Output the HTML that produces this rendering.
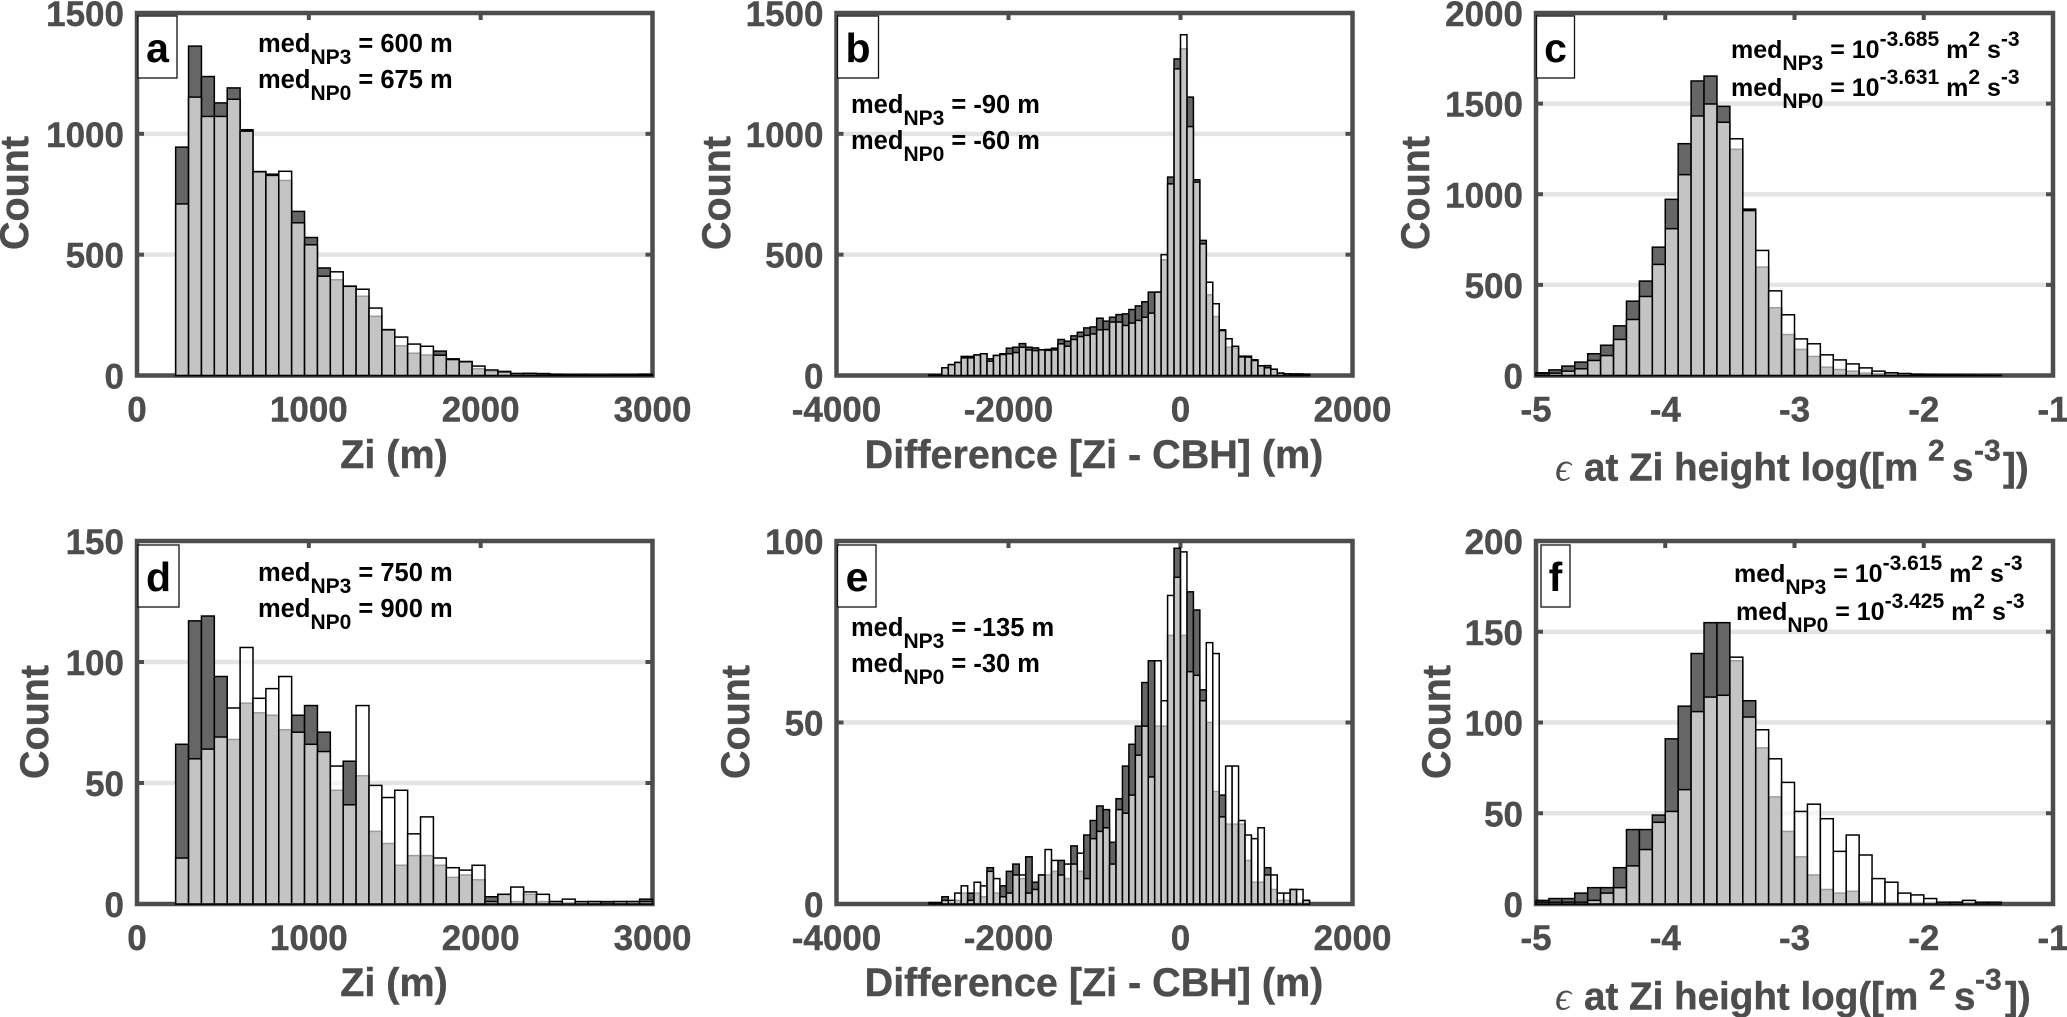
<!DOCTYPE html>
<html lang="en">
<head>
<meta charset="utf-8">
<title>Histograms of Zi, Zi - CBH difference and dissipation rate</title>
<style>
html,body{margin:0;padding:0;background:#fff;width:2067px;height:1017px;overflow:hidden}
svg{display:block}
text{font-family:"Liberation Sans",sans-serif;font-weight:700}
.tick{font-size:35px;fill:#4d4d4d;stroke:#4d4d4d;stroke-width:.4}
.axis-label{font-size:39.5px;fill:#4d4d4d;stroke:#4d4d4d;stroke-width:.4}
.axis-label-eps{font-size:38.6px;fill:#4d4d4d;stroke:#4d4d4d;stroke-width:.4}
.eps{font-family:"Liberation Serif","DejaVu Serif",serif;font-style:italic;font-weight:400;stroke-width:0}
.letter{font-size:41px;fill:#000;text-anchor:middle}
.note{font-size:25.500px;fill:#000}
.note-exp{font-size:25px;fill:#000}
.box{fill:#fff;stroke:#111;stroke-width:1.3}
</style>
</head>
<body>
<svg id="figure" xmlns="http://www.w3.org/2000/svg" width="2067" height="1017" viewBox="0 0 2067 1017">
<rect width="2067" height="1017" fill="#fff"/>

<g>
  <g id="plot-a"></g>
  <rect class="box" x="138" y="16" width="39" height="62"/>
  <text class="letter" x="157.500" y="62">a</text>
  <text class="note" x="258" y="52">med<tspan dy="12" font-size="21">NP3</tspan><tspan dy="-12"> = 600 m</tspan></text>
  <text class="note" x="258" y="88">med<tspan dy="12" font-size="21">NP0</tspan><tspan dy="-12"> = 675 m</tspan></text>
  <text class="axis-label" transform="translate(28,193) rotate(-90)" text-anchor="middle">Count</text>
  <text class="axis-label" x="394" y="468" text-anchor="middle">Zi (m)</text>
</g>

<g>
  <g id="plot-b"></g>
  <rect class="box" x="837.500" y="16" width="41" height="62"/>
  <text class="letter" x="858" y="62">b</text>
  <text class="note" x="851" y="113">med<tspan dy="12" font-size="21">NP3</tspan><tspan dy="-12"> = -90 m</tspan></text>
  <text class="note" x="851" y="149">med<tspan dy="12" font-size="21">NP0</tspan><tspan dy="-12"> = -60 m</tspan></text>
  <text class="axis-label" transform="translate(730,193) rotate(-90)" text-anchor="middle">Count</text>
  <text class="axis-label" x="1094" y="468" text-anchor="middle">Difference [Zi - CBH] (m)</text>
</g>

<g>
  <g id="plot-c"></g>
  <rect class="box" x="1536.500" y="16" width="38" height="62"/>
  <text class="letter" x="1555.500" y="62">c</text>
  <text class="note-exp" x="1731" y="58">med<tspan dy="12" font-size="21">NP3</tspan><tspan dy="-12"> = 10</tspan><tspan dy="-12" font-size="21">-3.685</tspan><tspan dy="12"> m</tspan><tspan dy="-12" font-size="21">2</tspan><tspan dy="12"> s</tspan><tspan dy="-12" font-size="21">-3</tspan></text>
  <text class="note-exp" x="1731" y="96">med<tspan dy="12" font-size="21">NP0</tspan><tspan dy="-12"> = 10</tspan><tspan dy="-12" font-size="21">-3.631</tspan><tspan dy="12"> m</tspan><tspan dy="-12" font-size="21">2</tspan><tspan dy="12"> s</tspan><tspan dy="-12" font-size="21">-3</tspan></text>
  <text class="axis-label" transform="translate(1429,193) rotate(-90)" text-anchor="middle">Count</text>
  <text class="axis-label-eps" y="480.500"><tspan class="eps" x="1555" font-size="40">ϵ</tspan><tspan x="1584">at Zi height log([m</tspan><tspan x="1928" dy="-20" font-size="30">2</tspan><tspan x="1952" dy="20">s</tspan><tspan x="1974" dy="-20" font-size="30">-3</tspan><tspan x="2003" dy="20">])</tspan></text>
</g>

<g>
  <g id="plot-d"></g>
  <rect class="box" x="138" y="545" width="41" height="62"/>
  <text class="letter" x="158.500" y="591">d</text>
  <text class="note" x="258" y="581">med<tspan dy="12" font-size="21">NP3</tspan><tspan dy="-12"> = 750 m</tspan></text>
  <text class="note" x="258" y="617">med<tspan dy="12" font-size="21">NP0</tspan><tspan dy="-12"> = 900 m</tspan></text>
  <text class="axis-label" transform="translate(48,722) rotate(-90)" text-anchor="middle">Count</text>
  <text class="axis-label" x="394" y="996" text-anchor="middle">Zi (m)</text>
</g>

<g>
  <g id="plot-e"></g>
  <rect class="box" x="837.500" y="545" width="38.500" height="62"/>
  <text class="letter" x="857" y="591">e</text>
  <text class="note" x="851" y="636">med<tspan dy="12" font-size="21">NP3</tspan><tspan dy="-12"> = -135 m</tspan></text>
  <text class="note" x="851" y="672">med<tspan dy="12" font-size="21">NP0</tspan><tspan dy="-12"> = -30 m</tspan></text>
  <text class="axis-label" transform="translate(749,722) rotate(-90)" text-anchor="middle">Count</text>
  <text class="axis-label" x="1094" y="996" text-anchor="middle">Difference [Zi - CBH] (m)</text>
</g>

<g>
  <g id="plot-f"></g>
  <rect class="box" x="1541" y="545" width="29" height="62"/>
  <text class="letter" x="1555.500" y="591">f</text>
  <text class="note-exp" x="1734" y="582">med<tspan dy="12" font-size="21">NP3</tspan><tspan dy="-12"> = 10</tspan><tspan dy="-12" font-size="21">-3.615</tspan><tspan dy="12"> m</tspan><tspan dy="-12" font-size="21">2</tspan><tspan dy="12"> s</tspan><tspan dy="-12" font-size="21">-3</tspan></text>
  <text class="note-exp" x="1736" y="620">med<tspan dy="12" font-size="21">NP0</tspan><tspan dy="-12"> = 10</tspan><tspan dy="-12" font-size="21">-3.425</tspan><tspan dy="12"> m</tspan><tspan dy="-12" font-size="21">2</tspan><tspan dy="12"> s</tspan><tspan dy="-12" font-size="21">-3</tspan></text>
  <text class="axis-label" transform="translate(1450,722) rotate(-90)" text-anchor="middle">Count</text>
  <text class="axis-label-eps" y="1009.500"><tspan class="eps" x="1555" font-size="40">ϵ</tspan><tspan x="1584">at Zi height log([m</tspan><tspan x="1929" dy="-20" font-size="30">2</tspan><tspan x="1954" dy="20">s</tspan><tspan x="1975" dy="-20" font-size="30">-3</tspan><tspan x="2005" dy="20">])</tspan></text>
</g>
</svg>

<script>
// Tick labels
const ziTicks = [0, 1000, 2000, 3000];
const diffTicks = [-4000, -2000, 0, 2000];
const epsTicks = [-5, -4, -3, -2, -1];
const countTicksA = [0, 500, 1000, 1500];
const countTicksB = [0, 500, 1000, 1500];
const countTicksC = [0, 500, 1000, 1500, 2000];
const countTicksD = [0, 50, 100, 150];
const countTicksE = [0, 50, 100];
const countTicksF = [0, 50, 100, 150, 200];

// Bin definitions (left edge of first bin, bin width, data units)
const ziBinStart = 225;
const ziBinWidth = 75;
const diffBinStart = -2925;
const diffBinWidth = 75;
const epsBinStart = -5;
const epsBinWidth = 0.1;

// Panel a: counts per bin
const aNP3 = [945,1363,1237,1128,1190,1017,844,833,807,679,571,445,396,370,328,245,190,123,92,85,101,69,58,28,17,17,8,9,8,4,3,2,2,2,3,3,5];
const aNP0 = [710,1152,1072,1072,1143,1011,843,828,845,632,541,411,429,369,357,279,189,159,130,121,84,66,57,39,23,15,8,8,7,4,3,2,1,1,2,2,3];

// Panel b: counts per bin
const bNP3 = [2,2,32,45,54,79,79,85,90,69,83,90,113,117,132,117,114,106,108,113,149,142,164,179,197,201,237,225,241,252,255,273,288,305,345,345,479,821,1310,1352,1152,810,559,334,244,189,117,114,80,80,65,40,41,26,10,7,6,6,5];
const bNP0 = [2,2,32,45,54,73,73,85,90,59,83,87,90,95,117,106,103,106,104,106,131,121,149,161,166,172,189,190,221,221,207,217,228,241,258,345,500,793,1269,1410,1030,800,545,386,297,186,152,121,77,76,62,40,32,26,10,7,6,6,5];

// Panel c: counts per bin
const cNP3 = [15,31,52,74,120,167,274,410,521,708,972,1279,1625,1652,1485,1248,918,598,374,226,144,105,46,33,24,13,9,4,3,3,4,3,3,2,2,1];
const cNP0 = [10,13,24,37,83,110,199,309,436,613,810,1108,1432,1498,1397,1306,910,690,467,335,202,175,114,86,64,42,24,15,11,7,5,3,2,2,1,1];

// Panel d: counts per bin
const dNP3 = [66,117,119,94,68,83,79,78,72,78,82,71,47,59,53,30,25,16,20,20,16,11,12,10,3,4,1,4,1,1,0,0,1,1,1,1,2];
const dNP0 = [19,60,64,69,81,106,85,89,94,71,66,63,57,41,82,49,44,47,29,36,19,15,14,16,1,4,7,5,4,1,2,1,1,0,1,1,1];

// Panel e: counts per bin
const eNP3 = [0.4,0.4,2,0,1,3,3,3,2,10,3,5,9,11,7,13,6,8,8,9,12,7,16,9,19,23,27,26,17,29,38,44,49,61,67,49,49,74,98,74,86,81,59,50,31,30,22,22,22,12,6,6,10,4,1,1,4,0,1];
const eNP0 = [0,0,1,1,3,5,1,6,5,9,7,2,3,8,8,3,4,8,15,12,8,11,11,14,7,18,20,21,11,26,25,30,41,49,35,67,56,85,90,97,64,63,56,72,69,24,38,38,23,19,18,21,8,8,3,3,4,4,1];

// Panel f: counts per bin
const fNP3 = [2,3,3,6,9,9,20,41,41,49,91,109,138,155,155,134,112,86,59,40,26,16,8,6,7,1,0,0,0,0,0,0,1,0,1,1];
const fNP0 = [1,1,1,1,2,6,9,21,30,45,51,63,106,114,115,136,103,96,80,67,51,55,47,29,38,27,14,12,6,5,3,1,1,2,0,0];

const NS = 'http://www.w3.org/2000/svg';
const INK = '#4d4d4d';

function linearScale(d0, d1, r0, r1) {
  return function (v) { return r0 + (v - d0) / (d1 - d0) * (r1 - r0); };
}

function drawPanel(id, left, right, top, bottom, xTicks, yTicks, binStart, binWidth, np3, np0) {
  const host = document.getElementById('plot-' + id);
  const xAxis = linearScale(xTicks[0], xTicks[xTicks.length - 1], left, right);
  const yAxis = linearScale(yTicks[0], yTicks[yTicks.length - 1], bottom, top);

  yTicks.slice(1, -1).forEach(function (t) {
    const grid = document.createElementNS(NS, 'line');
    
    
    grid.setAttribute('x1', left + 5);
    grid.setAttribute('x2', right - 5);
    grid.setAttribute('y1', yAxis(t));
    grid.setAttribute('y2', yAxis(t));
    grid.setAttribute('stroke', '#e4e4e4');
    grid.setAttribute('stroke-width', 4.5);
    host.appendChild(grid);
  });

  const frame = document.createElementNS(NS, 'rect');
  
  
  frame.setAttribute('x', left);
  frame.setAttribute('y', top);
  frame.setAttribute('width', right - left);
  frame.setAttribute('height', bottom - top);
  frame.setAttribute('fill', 'none');
  frame.setAttribute('stroke', INK);
  frame.setAttribute('stroke-width', 4.5);
  host.appendChild(frame);

  yTicks.forEach(function (t) {
    [[left, left + 7], [right - 7, right]].forEach(function (span) {
      const mark = document.createElementNS(NS, 'line');
      
      
      mark.setAttribute('x1', span[0]);
      mark.setAttribute('x2', span[1]);
      mark.setAttribute('y1', yAxis(t));
      mark.setAttribute('y2', yAxis(t));
      mark.setAttribute('stroke', INK);
      mark.setAttribute('stroke-width', 4);
      host.appendChild(mark);
    });
    const label = document.createElementNS(NS, 'text');
    
    
    label.setAttribute('class', 'tick');
    label.setAttribute('x', left - 13);
    label.setAttribute('y', yAxis(t) + 13);
    label.setAttribute('text-anchor', 'end');
    label.textContent = t;
    host.appendChild(label);
  });

  xTicks.forEach(function (t) {
    const mark = document.createElementNS(NS, 'line');
    
    
    mark.setAttribute('x1', xAxis(t));
    mark.setAttribute('x2', xAxis(t));
    mark.setAttribute('y1', top);
    mark.setAttribute('y2', top + 7);
    mark.setAttribute('stroke', INK);
    mark.setAttribute('stroke-width', 4);
    host.appendChild(mark);
    const label = document.createElementNS(NS, 'text');
    
    
    label.setAttribute('class', 'tick');
    label.setAttribute('x', xAxis(t));
    label.setAttribute('y', bottom + 46);
    label.setAttribute('text-anchor', 'middle');
    label.textContent = t;
    host.appendChild(label);
  });

  np3.forEach(function (v, i) {
    if (v <= 0) return;
    const edge = binStart + i * binWidth;
    const bar = document.createElementNS(NS, 'rect');
    
    
    bar.setAttribute('x', xAxis(edge));
    bar.setAttribute('y', yAxis(v));
    bar.setAttribute('width', xAxis(edge + binWidth) - xAxis(edge));
    bar.setAttribute('height', yAxis(0) - yAxis(v));
    bar.setAttribute('fill', '#666');
    bar.setAttribute('stroke', '#000');
    bar.setAttribute('stroke-width', 1.5);
    host.appendChild(bar);
  });

  np0.forEach(function (v, i) {
    if (v <= 0) return;
    const edge = binStart + i * binWidth;
    const bar = document.createElementNS(NS, 'rect');
    
    
    bar.setAttribute('x', xAxis(edge));
    bar.setAttribute('y', yAxis(v));
    bar.setAttribute('width', xAxis(edge + binWidth) - xAxis(edge));
    bar.setAttribute('height', yAxis(0) - yAxis(v));
    bar.setAttribute('fill', 'rgba(255,255,255,0.615)');
    bar.setAttribute('stroke', '#000');
    bar.setAttribute('stroke-width', 1.5);
    host.appendChild(bar);
  });
}

drawPanel('a', 137, 652.500, 13, 375.500, ziTicks, countTicksA, ziBinStart, ziBinWidth, aNP3, aNP0);
drawPanel('b', 836.500, 1352.500, 13, 375.500, diffTicks, countTicksB, diffBinStart, diffBinWidth, bNP3, bNP0);
drawPanel('c', 1536, 2053, 13, 375.500, epsTicks, countTicksC, epsBinStart, epsBinWidth, cNP3, cNP0);
drawPanel('d', 137, 652.500, 541, 904, ziTicks, countTicksD, ziBinStart, ziBinWidth, dNP3, dNP0);
drawPanel('e', 836.500, 1352.500, 541, 904, diffTicks, countTicksE, diffBinStart, diffBinWidth, eNP3, eNP0);
drawPanel('f', 1536, 2053, 541, 904, epsTicks, countTicksF, epsBinStart, epsBinWidth, fNP3, fNP0);
</script>
</body>
</html>
